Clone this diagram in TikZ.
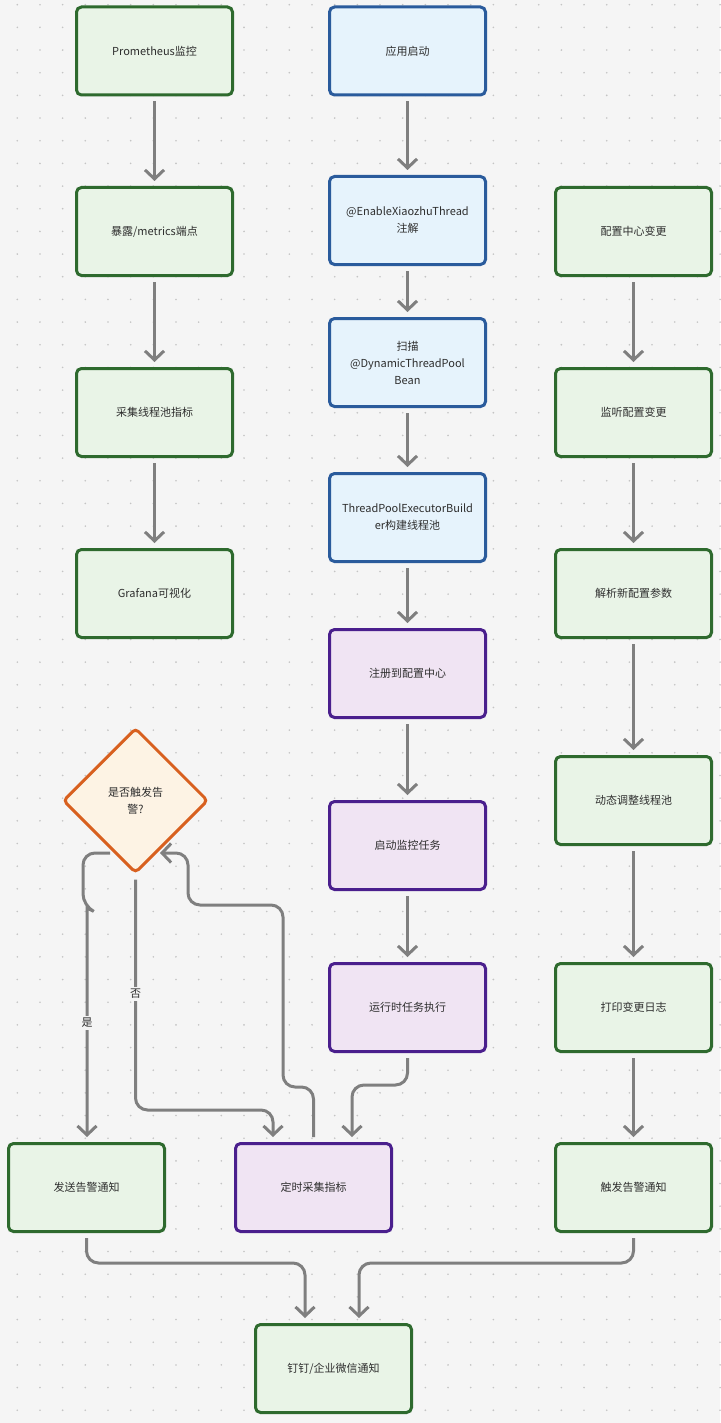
\documentclass[tikz,border=0pt]{standalone}
\usepackage{fontspec}
\setmainfont{Noto Sans CJK SC}
\usepackage{tikz}
\usetikzlibrary{arrows.meta,shapes.geometric}
\definecolor{pagebg}{HTML}{F5F5F5}
\definecolor{dotgray}{HTML}{C4C4C4}
\definecolor{greenfill}{HTML}{E9F4E7}
\definecolor{greenline}{HTML}{2E6A2E}
\definecolor{bluefill}{HTML}{E6F3FC}
\definecolor{blueline}{HTML}{2A5B9C}
\definecolor{purplefill}{HTML}{F0E4F3}
\definecolor{purpleline}{HTML}{4A1F8D}
\definecolor{orangefill}{HTML}{FDF3E4}
\definecolor{orangeline}{HTML}{D8601F}
\definecolor{flowgray}{HTML}{7F7F7F}
\definecolor{textgray}{HTML}{2E2E2E}

\begin{document}
\begin{tikzpicture}[x=1pt,y=-1pt,
    box/.style={draw, line width=3pt, rounded corners=5pt, minimum width=156pt,
        minimum height=88pt, align=center, text=textgray,
        font=\fontsize{11}{17}\selectfont},
    greenbox/.style={box, fill=greenfill, draw=greenline},
    bluebox/.style={box, fill=bluefill, draw=blueline},
    purplebox/.style={box, fill=purplefill, draw=purpleline},
    decision/.style={diamond, draw=orangeline, fill=orangefill, line width=3pt,
        rounded corners=4pt, minimum width=145pt, minimum height=145pt, inner sep=0pt,
        align=center, text=textgray, font=\fontsize{11}{17}\selectfont},
    flow/.style={draw=flowgray, line width=3pt, rounded corners=12pt,
        -{Straight Barb[length=9pt,width=19pt]}, shorten <=5pt, shorten >=5pt},
    edgelabel/.style={fill=pagebg, inner sep=2pt, text=textgray,
        font=\fontsize{11}{13}\selectfont}]
        \fill[pagebg] (0,0) rectangle (720,1423);
        \foreach \i in {0,1,...,31}{
            \foreach \j in {0,1,...,62}{
                \fill[dotgray] (17.3+22.67*\i,4.7+22.67*\j) circle (0.9pt);
            }
        }
        % left column
        \node[greenbox] (prom) at (154.5,51) {Prometheus监控};
        \node[greenbox] (expose) at (154.5,231.5) {暴露/metrics端点};
        \node[greenbox] (collect) at (154.5,412.5) {采集线程池指标};
        \node[greenbox] (grafana) at (154.5,593.5) {Grafana可视化};
        % middle column
        \node[bluebox] (start) at (407.5,51) {应用启动};
        \node[bluebox] (enable) at (407.5,220.5) {@EnableXiaozhuThread\\注解};
        \node[bluebox] (scan) at (407.5,362.5) {扫描\\@DynamicThreadPool\\Bean};
        \node[bluebox] (builder) at (407.5,517.5) {ThreadPoolExecutorBuild\\er构建线程池};
        \node[purplebox] (register) at (407.5,673.5) {注册到配置中心};
        \node[purplebox] (monitor) at (407.5,845.5) {启动监控任务};
        \node[purplebox] (runtime) at (407.5,1007.5) {运行时任务执行};
        % right column
        \node[greenbox] (cfgchange) at (633.5,231.5) {配置中心变更};
        \node[greenbox] (listen) at (633.5,412.5) {监听配置变更};
        \node[greenbox] (parse) at (633.5,593.5) {解析新配置参数};
        \node[greenbox] (adjust) at (633.5,800.5) {动态调整线程池};
        \node[greenbox] (log) at (633.5,1007.5) {打印变更日志};
        \node[greenbox] (alarm) at (633.5,1187.5) {触发告警通知};
        % bottom
        \node[decision] (alert) at (135.5,800.5) {是否触发告\\警?};
        \node[greenbox] (send) at (86.5,1187.5) {发送告警通知};
        \node[purplebox] (timer) at (313.5,1187.5) {定时采集指标};
        \node[greenbox] (notify) at (333.5,1368.5) {钉钉/企业微信通知};
        \coordinate (alertin) at (155,853);
        \coordinate (alertout) at (115,853);

        \draw[flow] (prom) -- (expose);
        \draw[flow] (expose) -- (collect);
        \draw[flow] (collect) -- (grafana);
        \draw[flow] (start) -- (enable);
        \draw[flow] (enable) -- (scan);
        \draw[flow] (scan) -- (builder);
        \draw[flow] (builder) -- (register);
        \draw[flow] (register) -- (monitor);
        \draw[flow] (monitor) -- (runtime);
        \draw[flow] (cfgchange) -- (listen);
        \draw[flow] (listen) -- (parse);
        \draw[flow] (parse) -- (adjust);
        \draw[flow] (adjust) -- (log);
        \draw[flow] (log) -- (alarm);
        \draw[flow] (runtime.south) -- ++(0,32) -| ([xshift=38.5pt]timer.north);
        \draw[flow] (timer.north) |- (283,1087) |- (188,905) |- (alertin);
        \draw[flow] (alertout) -| (83,906) [sharp corners] -- (87,908)
            -- ([xshift=0.5pt]send.north) node[edgelabel, pos=0.49] {是};
        \draw[flow] (alert.south) -- (135.5,1110) -| ([xshift=-40.5pt]timer.north);
        \node[edgelabel] (nolabel) at (135.5,994) {否};
        \draw[flow] (send.south) -- ++(0,30) -| ([xshift=-28.5pt]notify.north);
        \draw[flow] (alarm.south) -- ++(0,30) -| ([xshift=25.5pt]notify.north);
    \end{tikzpicture}
\end{document}
